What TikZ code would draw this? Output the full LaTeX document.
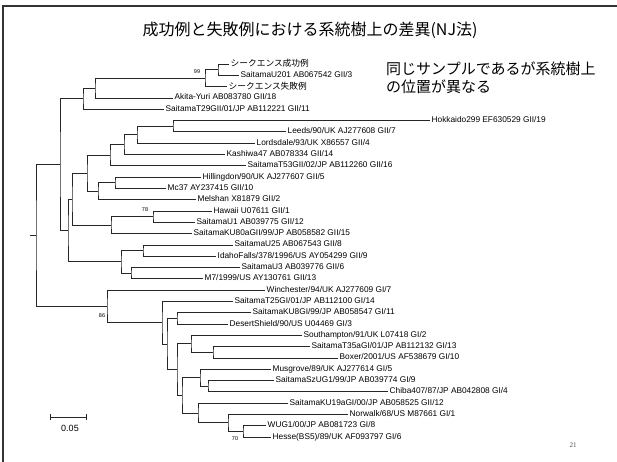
\documentclass[tikz,border=0pt]{standalone}
\usepackage{fontspec}
\setmainfont{Liberation Sans}
\newfontfamily\jpFont{Noto Sans CJK JP}
\newfontfamily\pageFont{Liberation Serif}
\usetikzlibrary{calc}
\tikzstyle{pixelPlane} = [x = 1pt, y = -1pt]
\tikzstyle{branchLine} = [color=black!85, line width=.6pt]
\tikzstyle{frameLine} = [color=black!80, line width=1.2pt]
\tikzstyle{leafText} = [anchor=west, inner sep=1.5pt, font=\fontsize{8.3}{9}\selectfont, text height=6pt, text depth=1.8pt]
\tikzstyle{leafTextJp} = [leafText, font=\jpFont\fontsize{8.7}{9}\selectfont, text height=7pt, text depth=1pt]
\tikzstyle{bootText} = [inner sep=0pt, font=\fontsize{5.5}{6}\selectfont]
\tikzstyle{titleText} = [inner sep=0pt, font=\jpFont\fontsize{16}{18}\selectfont]
\tikzstyle{noteText} = [anchor=west, align=left, inner sep=0pt, font=\jpFont\fontsize{15}{18}\selectfont]
\tikzstyle{scaleText} = [inner sep=0pt, font=\fontsize{9}{10}\selectfont]
\tikzstyle{pageText} = [inner sep=0pt, color=black!70, font=\pageFont\fontsize{7}{8}\selectfont]
\newcommand{\leafStep}{11.3}
% leaf: [style]{name}{row}{label x}{text}
\newcommand{\leafNode}[5][leafText]{
  \coordinate (#2) at (#4 - 2, {64 + \leafStep * (#3 - 1)});
  \node [#1] (#2Label) at (#2) {#5};
}
% inner node: {name}{x}{upper child}{lower child}
\newcommand{\joinNode}[4]{
  \path let \p1 = ($(#3)!0.5!(#4)$) in coordinate (#1) at (#2pt, \y1);
  \draw [branchLine] (#3) -| (#1) |- (#4);
}

\begin{document}
\begin{tikzpicture}[pixelPlane]
    \useasboundingbox (0,0) rectangle (617,462);
    \fill [white] (0,0) rectangle (617,462);
    \draw [frameLine] (3,462) -- (3,6) -- (617,6);
    \node [titleText] (title) at (310,30) {成功例と失敗例における系統樹上の差異(NJ法)};
    \node [noteText] (note) at (386,78) {同じサンプルであるが系統樹上\\の位置が異なる};
    % GII
    \leafNode[leafTextJp]{seqOk}{1}{231}{シークエンス成功例}
    \leafNode{u201}{2}{241}{SaitamaU201 AB067542 GII/3}
    \leafNode[leafTextJp]{seqNg}{3}{229}{シークエンス失敗例}
    \leafNode{akita}{4}{175}{Akita-Yuri AB083780 GII/18}
    \leafNode{t29}{5}{166}{SaitamaT29GII/01/JP AB112221 GII/11}
    \leafNode{hokkaido}{6}{432}{Hokkaido299 EF630529 GII/19}
    \leafNode{leeds}{7}{288}{Leeds/90/UK AJ277608 GII/7}
    \leafNode{lordsdale}{8}{257}{Lordsdale/93/UK X86557 GII/4}
    \leafNode{kashiwa}{9}{227}{Kashiwa47 AB078334 GII/14}
    \leafNode{t53}{10}{248}{SaitamaT53GII/02/JP AB112260 GII/16}
    \leafNode{hillingdon}{11}{203}{Hillingdon/90/UK AJ277607 GII/5}
    \leafNode{mc37}{12}{168}{Mc37 AY237415 GII/10}
    \leafNode{melshan}{13}{198}{Melshan X81879 GII/2}
    \leafNode{hawaii}{14}{214}{Hawaii U07611 GII/1}
    \leafNode{u1}{15}{197}{SaitamaU1 AB039775 GII/12}
    \leafNode{ku80a}{16}{194}{SaitamaKU80aGII/99/JP AB058582 GII/15}
    \leafNode{u25}{17}{235}{SaitamaU25 AB067543 GII/8}
    \leafNode{idaho}{18}{218}{IdahoFalls/378/1996/US AY054299 GII/9}
    \leafNode{u3}{19}{242}{SaitamaU3 AB039776 GII/6}
    \leafNode{m7}{20}{205}{M7/1999/US AY130761 GII/13}
    % GI
    \leafNode{winchester}{21}{267}{Winchester/94/UK AJ277609 GI/7}
    \leafNode{t25}{22}{235}{SaitamaT25GI/01/JP AB112100 GI/14}
    \leafNode{ku8}{23}{253}{SaitamaKU8GI/99/JP AB058547 GI/11}
    \leafNode{desert}{24}{230}{DesertShield/90/US U04469 GI/3}
    \leafNode{southampton}{25}{304}{Southampton/91/UK L07418 GI/2}
    \leafNode{t35a}{26}{312}{SaitamaT35aGI/01/JP AB112132 GI/13}
    \leafNode{boxer}{27}{340}{Boxer/2001/US AF538679 GI/10}
    \leafNode{musgrove}{28}{273}{Musgrove/89/UK AJ277614 GI/5}
    \leafNode{szug1}{29}{276}{SaitamaSzUG1/99/JP AB039774 GI/9}
    \leafNode{chiba}{30}{390}{Chiba407/87/JP AB042808 GI/4}
    \leafNode{ku19a}{31}{290}{SaitamaKU19aGI/00/JP AB058525 GII/12}
    \leafNode{norwalk}{32}{350}{Norwalk/68/US M87661 GI/1}
    \leafNode{wug1}{33}{268}{WUG1/00/JP AB081723 GI/8}
    \leafNode{hesse}{34}{273}{Hesse(BS5)/89/UK AF093797 GI/6}
    % clades, tips first
    \joinNode{cSeq}{218}{seqOk}{u201}
    \joinNode{c99}{205}{cSeq}{seqNg}
    \joinNode{cAkita}{95}{c99}{akita}
    \joinNode{cT29}{83}{cAkita}{t29}
    \joinNode{cHL}{173}{hokkaido}{leeds}
    \joinNode{cLords}{137}{cHL}{lordsdale}
    \joinNode{cKashiwa}{124}{cLords}{kashiwa}
    \joinNode{cT53}{110}{cKashiwa}{t53}
    \joinNode{cHM}{115}{hillingdon}{mc37}
    \joinNode{cMelshan}{98}{cHM}{melshan}
    \joinNode{cUpper}{87}{cT53}{cMelshan}
    \joinNode{c78}{153}{hawaii}{u1}
    \joinNode{cKU80}{111}{c78}{ku80a}
    \joinNode{cMiddle}{72}{cUpper}{cKU80}
    \joinNode{cUI}{143}{u25}{idaho}
    \joinNode{cUM}{131}{u3}{m7}
    \joinNode{cLower}{121}{cUI}{cUM}
    \joinNode{cRest}{68}{cMiddle}{cLower}
    \joinNode{cGII}{60}{cT29}{cRest}
    \joinNode{cKD}{177}{ku8}{desert}
    \joinNode{cTB}{213}{t35a}{boxer}
    \joinNode{cSouth}{191}{southampton}{cTB}
    \joinNode{cSC}{208}{szug1}{chiba}
    \joinNode{cMus}{200}{musgrove}{cSC}
    \joinNode{c70}{243}{wug1}{hesse}
    \joinNode{cNW}{228}{norwalk}{c70}
    \joinNode{cKU19}{198}{ku19a}{cNW}
    \joinNode{cG7}{182}{cMus}{cKU19}
    \joinNode{cG5}{177}{cSouth}{cG7}
    \joinNode{cG3}{167}{cKD}{cG5}
    \joinNode{cG2}{162}{t25}{cG3}
    \joinNode{c86}{107}{winchester}{cG2}
    \joinNode{root}{36}{cGII}{c86}
    \coordinate (rootStub) at ($(root) + (-6,0)$);
    \draw [branchLine] (root) -- (rootStub);
    % bootstrap values
    \node [bootText] (boot99) at ($(c99) + (-8,-7)$) {99};
    \node [bootText] (boot78) at ($(c78) + (-8,-6.5)$) {78};
    \node [bootText] (boot86) at ($(c86) + (-5,9)$) {86};
    \node [bootText] (boot70) at ($(c70) + (-8,7.5)$) {70};
    % scale
    \coordinate (scaleLeft) at (50,417);
    \coordinate (scaleRight) at (86,417);
    \draw [branchLine] (scaleLeft) -- (scaleRight);
    \draw [branchLine] ([yshift=-3pt]scaleLeft) -- ([yshift=3pt]scaleLeft);
    \draw [branchLine] ([yshift=-3pt]scaleRight) -- ([yshift=3pt]scaleRight);
    \node [scaleText] (scaleValue) at (70,428) {0.05};
    \node [pageText] (pageNo) at (573,445) {21};
\end{tikzpicture}
\end{document}
